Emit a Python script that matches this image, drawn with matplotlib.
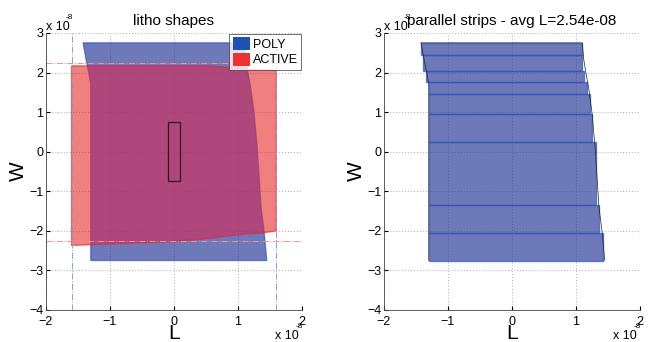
import matplotlib.pyplot as plt
from matplotlib.patches import Rectangle

plt.rcParams['font.family'] = ['Liberation Sans', 'DejaVu Sans']

# all lengths in units of 1e-8
poly_x = [-1.42, 1.10, 1.12, 1.15, 1.20, 1.25, 1.30, 1.36, 1.41, 1.45, -1.30, -1.30, -1.33, -1.37]
poly_y = [2.75, 2.75, 2.35, 2.05, 1.60, 1.00, 0.10, -1.40, -2.05, -2.75, -2.75, 1.70, 2.00, 2.30]

active_x = [-1.60, 0.50, 1.00, 1.20, 1.60, 1.60, 1.40, 1.00, 0.50, 0.00, -1.00, -1.60]
active_y = [2.17, 2.17, 2.12, 2.08, 2.06, -2.00, -2.05, -2.10, -2.20, -2.27, -2.33, -2.37]

active_lx = [-1.6, 1.6]      # dash-dot guides
active_ly = [2.25, -2.25]
channel = (-0.1, -0.75, 0.2, 1.5)

strip_edges = [2.75, 2.45, 2.05, 1.75, 1.45, 0.95, 0.25, -1.35, -2.05, -2.75]
strip_left = [-1.42, -1.39, -1.34, -1.30, -1.30, -1.30, -1.30, -1.30, -1.30]
strip_right = [1.10, 1.10, 1.13, 1.18, 1.22, 1.25, 1.31, 1.36, 1.42]
avg_L = 2.54e-08

blue_face = '#2a3a9a'
blue_edge = '#2d55b5'
red_face = '#e62a2a'


def style(ax, title):
    ax.set_xlim(-2, 2)
    ax.set_ylim(-4, 3)
    ax.set_xticks(range(-2, 3))
    ax.set_yticks(range(-4, 4))
    ax.grid(True, linestyle=':', color='#b8b8b8', linewidth=0.8)
    ax.set_axisbelow(True)
    ax.tick_params(direction='in', labelsize=9, length=3, pad=2)
    ax.tick_params(axis='x', pad=4)
    for s in ['left', 'bottom']:
        ax.spines[s].set_linewidth(0.6)
        ax.spines[s].set_color('#444444')
    for s in ['top', 'right']:
        ax.spines[s].set_visible(False)
    ax.set_xlabel('L', fontsize=15, labelpad=-2.5)
    ax.set_ylabel('W', fontsize=15, labelpad=1)
    ax.set_title(title, fontsize=11, pad=6)
    # MATLAB style exponent labels
    ax.text(0.0, 1.01, 'x 10', transform=ax.transAxes, fontsize=9, va='baseline')
    ax.text(0.078, 1.052, '-8', transform=ax.transAxes, fontsize=6, va='baseline')
    ax.text(0.895, -0.094, 'x 10', transform=ax.transAxes, fontsize=9, va='center')
    ax.text(0.975, -0.061, '-8', transform=ax.transAxes, fontsize=6, va='center')


fig = plt.figure(figsize=(6.53, 3.42), dpi=100)
ax1 = fig.add_axes([0.0704, 0.0936, 0.392, 0.81])
ax2 = fig.add_axes([0.588, 0.0936, 0.392, 0.81])

# left: litho shapes
style(ax1, 'litho shapes')
for x in active_lx:
    ax1.axvline(x, color='#8aa0d8', linestyle='-.', linewidth=0.7)
for y in active_ly:
    ax1.axhline(y, color='#f09090', linestyle='-.', linewidth=0.7)
poly = ax1.fill(poly_x, poly_y, facecolor=blue_face, alpha=0.68,
                edgecolor=blue_edge, linewidth=1.0)[0]
ax1.fill(active_x, active_y, facecolor=red_face, alpha=0.6, edgecolor='#ee2020',
         linewidth=1.0)
# tint the overlap a little towards purple
over = ax1.fill(active_x, active_y, facecolor='#9a40e2', alpha=0.2,
                edgecolor='none')[0]
over.set_clip_path(poly)
ax1.add_patch(Rectangle(channel[:2], channel[2], channel[3], fill=False,
                        edgecolor='#3a1020', linewidth=0.9))
h = [Rectangle((0, 0), 1, 1, facecolor='#2050b0'),
     Rectangle((0, 0), 1, 1, facecolor='#ee3030')]
leg = ax1.legend(h, ['POLY', 'ACTIVE'], loc='upper right', fontsize=9,
                 frameon=True, fancybox=False, borderaxespad=0.1,
                 handlelength=1.4, handleheight=1.2, handletextpad=0.2,
                 borderpad=0.25, labelspacing=0.15)
leg.get_frame().set_edgecolor('#333333')
leg.get_frame().set_linewidth(0.6)

# right: parallel strips
style(ax2, 'parallel strips - avg L=%.2e' % avg_L)
for i in range(len(strip_left)):
    y0, y1 = strip_edges[i + 1], strip_edges[i]
    ax2.fill([strip_left[i], strip_right[i], strip_right[i], strip_left[i]],
             [y1, y1, y0, y0], facecolor=blue_face, alpha=0.68,
             edgecolor=blue_edge, linewidth=1.0)
ax2.plot(poly_x[:10], poly_y[:10], color='#222222', linewidth=0.5)
ax2.plot(poly_x[10:] + [poly_x[0]], poly_y[10:] + [poly_y[0]], color='#222222',
         linewidth=0.5)

fig.savefig('out.png', dpi=100)
